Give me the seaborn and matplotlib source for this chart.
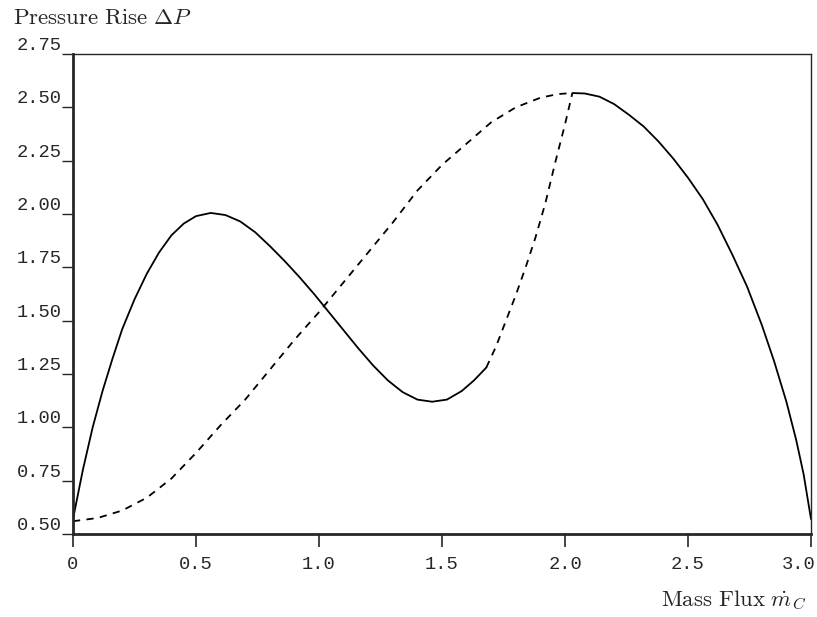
import matplotlib
matplotlib.use("Agg")
import matplotlib.pyplot as plt
import matplotlib.transforms as mtransforms
import seaborn as sns
import pandas as pd

# Stable branch (solid), left part
solid_left_x = [0.00, 0.04, 0.08, 0.12, 0.16, 0.20, 0.25, 0.30, 0.35, 0.40, 0.45, 0.50, 0.56,
                0.62, 0.68, 0.74, 0.80, 0.86, 0.92, 0.98, 1.04, 1.10, 1.16, 1.22, 1.28, 1.34,
                1.40, 1.46, 1.52, 1.58, 1.63, 1.68]
solid_left_y = [0.57, 0.80, 1.00, 1.17, 1.32, 1.46, 1.60, 1.72, 1.82, 1.90, 1.955, 1.99, 2.005,
                1.995, 1.965, 1.915, 1.85, 1.78, 1.705, 1.625, 1.54, 1.455, 1.37, 1.29, 1.22,
                1.165, 1.13, 1.12, 1.13, 1.17, 1.22, 1.28]

# Unstable rising branch (dashed)
dash_rise_x = [1.68, 1.72, 1.76, 1.80, 1.84, 1.88, 1.92, 1.96, 2.00, 2.03]
dash_rise_y = [1.28, 1.38, 1.50, 1.62, 1.75, 1.89, 2.05, 2.24, 2.42, 2.567]

# Stable branch (solid), right part
solid_right_x = [2.03, 2.08, 2.14, 2.20, 2.26, 2.32, 2.38, 2.44, 2.50, 2.56, 2.62, 2.68, 2.74,
                 2.80, 2.85, 2.90, 2.94, 2.97, 3.00]
solid_right_y = [2.567, 2.565, 2.55, 2.515, 2.465, 2.41, 2.34, 2.26, 2.17, 2.07, 1.95, 1.81,
                 1.66, 1.48, 1.31, 1.12, 0.94, 0.78, 0.57]

# Dashed characteristic
dash_main_x = [0.00, 0.10, 0.20, 0.30, 0.40, 0.50, 0.60, 0.70, 0.80, 0.90, 1.00, 1.10, 1.20,
               1.30, 1.40, 1.50, 1.60, 1.70, 1.80, 1.90, 1.97, 2.03]
dash_main_y = [0.56, 0.575, 0.61, 0.67, 0.76, 0.88, 1.01, 1.13, 1.27, 1.41, 1.54, 1.68, 1.82,
               1.96, 2.11, 2.23, 2.33, 2.43, 2.50, 2.545, 2.562, 2.567]

x_ticks = [0, 0.5, 1.0, 1.5, 2.0, 2.5, 3.0]
x_tick_labels = ["0", "0.5", "1.0", "1.5", "2.0", "2.5", "3.0"]
y_ticks = [0.50, 0.75, 1.00, 1.25, 1.50, 1.75, 2.00, 2.25, 2.50, 2.75]
y_tick_labels = ["0.50", "0.75", "1.00", "1.25", "1.50", "1.75", "2.00", "2.25", "2.50", "2.75"]

sns.set_style("ticks")
plt.rcParams["font.family"] = ["DejaVu Serif"]
plt.rcParams["mathtext.fontset"] = "cm"

fig = plt.figure(figsize=(8.17, 6.17), dpi=100)
ax = fig.add_axes([73 / 817, 1 - 534 / 617, (811 - 73) / 817, (534 - 54) / 617])

def seg(x, y):
    return pd.DataFrame({"x": x, "y": y})

lw = 1.3
sns.lineplot(data=seg(solid_left_x, solid_left_y), x="x", y="y", ax=ax, color="black",
             lw=lw, sort=False, estimator=None)
sns.lineplot(data=seg(solid_right_x, solid_right_y), x="x", y="y", ax=ax, color="black",
             lw=lw, sort=False, estimator=None)
sns.lineplot(data=seg(dash_rise_x, dash_rise_y), x="x", y="y", ax=ax, color="black",
             lw=lw, sort=False, estimator=None)
sns.lineplot(data=seg(dash_main_x, dash_main_y), x="x", y="y", ax=ax, color="black",
             lw=lw, sort=False, estimator=None)
lines = ax.get_lines()
for ln in lines[2:4]:
    ln.set_dashes([4, 3.5])

ax.set_xlim(0, 3.0)
ax.set_ylim(0.5, 2.75)
ax.set_xlabel("")
ax.set_ylabel("")

ax.set_xticks(x_ticks)
ax.set_xticklabels(x_tick_labels, family="Liberation Mono", fontsize=13.5)
ax.set_yticks(y_ticks)
ax.set_yticklabels(y_tick_labels, family="Liberation Mono", fontsize=13.5, va="bottom")
ax.tick_params(axis="x", direction="out", length=9, width=1.2, pad=7)
ax.tick_params(axis="y", direction="out", length=8, width=1.0, pad=0)

# shift the last x tick label slightly left so it stays inside the figure
last = ax.get_xticklabels()[-1]
last.set_transform(last.get_transform() +
                   mtransforms.ScaledTranslation(-12 / 100, 0, fig.dpi_scale_trans))

for s in ["left", "bottom"]:
    ax.spines[s].set_linewidth(2.0)
for s in ["top", "right"]:
    ax.spines[s].set_visible(True)
    ax.spines[s].set_linewidth(1.0)

fig.text(13 / 817, 1 - 18 / 617, r"$\mathrm{Pressure\ Rise}\ \Delta P$", fontsize=16.5,
         ha="left", va="center")
fig.text(806 / 817, 1 - 600 / 617, r"$\mathrm{Mass\ Flux}\ \dot{m}_C$", fontsize=16.5,
         ha="right", va="center")

fig.savefig("out.png", dpi=100)
